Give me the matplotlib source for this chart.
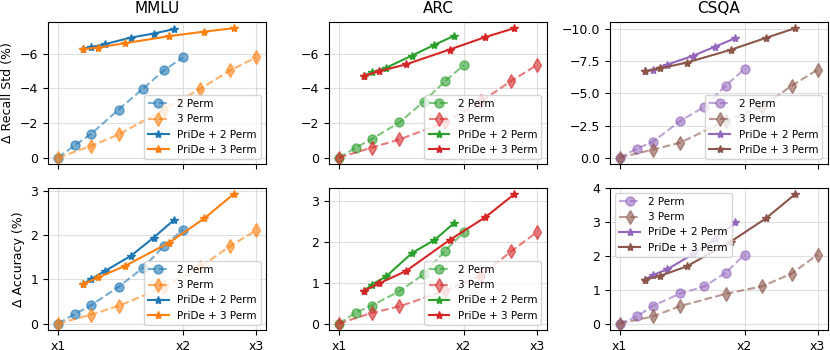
import numpy as np
import matplotlib
matplotlib.use('Agg')
import matplotlib.pyplot as plt
from matplotlib.ticker import NullLocator

plt.rcParams['font.size'] = 9

datasets = ['MMLU', 'ARC', 'CSQA']
colors = [('tab:blue', 'tab:orange'), ('tab:green', 'tab:red'), ('tab:purple', 'tab:brown')]

# relative cost (x axis)
x_2perm = [1.0, 1.1, 1.2, 1.4, 1.6, 1.8, 2.0]
x_3perm = [1.0, 1.2, 1.4, 1.8, 2.2, 2.6, 3.0]
x_pride_2perm = [1.15, 1.2, 1.3, 1.5, 1.7, 1.9]
x_pride_3perm = [1.15, 1.25, 1.45, 1.85, 2.25, 2.65]

# delta recall std (%)
std_2perm = {
    'MMLU': [0, -0.73, -1.36, -2.78, -3.97, -5.04, -5.79],
    'ARC': [0, -0.58, -1.07, -2.03, -3.22, -4.39, -5.33],
    'CSQA': [0, -0.70, -1.22, -2.86, -3.96, -5.60, -6.90],
}
std_3perm = {
    'MMLU': [0, -0.67, -1.34, -2.78, -3.97, -5.04, -5.79],
    'ARC': [0, -0.58, -1.05, -2.03, -3.24, -4.41, -5.33],
    'CSQA': [0, -0.62, -1.17, -2.86, -3.96, -5.60, -6.85],
}
std_pride_2perm = {
    'MMLU': [-6.29, -6.38, -6.56, -6.94, -7.17, -7.42],
    'ARC': [-4.72, -4.91, -5.18, -5.88, -6.50, -7.03],
    'CSQA': [-6.72, -6.85, -7.24, -7.92, -8.65, -9.30],
}
std_pride_3perm = {
    'MMLU': [-6.27, -6.36, -6.61, -7.02, -7.28, -7.48],
    'ARC': [-4.72, -4.98, -5.37, -6.23, -6.94, -7.46],
    'CSQA': [-6.72, -6.95, -7.40, -8.39, -9.32, -10.08],
}

# delta accuracy (%)
acc_2perm = {
    'MMLU': [0, 0.22, 0.41, 0.83, 1.25, 1.75, 2.12],
    'ARC': [0, 0.27, 0.44, 0.79, 1.20, 1.77, 2.23],
    'CSQA': [0, 0.21, 0.52, 0.89, 1.10, 1.50, 2.04],
}
acc_3perm = {
    'MMLU': [0, 0.20, 0.40, 0.82, 1.27, 1.75, 2.10],
    'ARC': [0, 0.26, 0.42, 0.80, 1.17, 1.76, 2.23],
    'CSQA': [0, 0.21, 0.52, 0.88, 1.10, 1.48, 2.04],
}
acc_pride_2perm = {
    'MMLU': [0.89, 1.00, 1.19, 1.53, 1.94, 2.33],
    'ARC': [0.80, 0.95, 1.15, 1.72, 2.04, 2.46],
    'CSQA': [1.30, 1.43, 1.60, 2.05, 2.50, 2.99],
}
acc_pride_3perm = {
    'MMLU': [0.89, 1.04, 1.30, 1.82, 2.37, 2.92],
    'ARC': [0.80, 0.98, 1.28, 2.04, 2.59, 3.16],
    'CSQA': [1.30, 1.41, 1.69, 2.42, 3.11, 3.83],
}

fig, axes = plt.subplots(2, 3, figsize=(8.3, 3.5), dpi=100, sharex=True)
fig.subplots_adjust(left=0.058, right=0.997, top=0.938, bottom=0.057, wspace=0.29, hspace=0.165)

rows = [(std_2perm, std_3perm, std_pride_2perm, std_pride_3perm),
        (acc_2perm, acc_3perm, acc_pride_2perm, acc_pride_3perm)]

for r in range(2):
    d2, d3, p2, p3 = rows[r]
    for c, name in enumerate(datasets):
        ax = axes[r, c]
        c2, c3 = colors[c]
        ax.plot(x_2perm, d2[name], '--o', color=c2, alpha=0.6, ms=6.5, lw=1.5, label='2 Perm')
        ax.plot(x_3perm, d3[name], '--d', color=c3, alpha=0.6, ms=7.5, lw=1.5, label='3 Perm')
        ax.plot(x_pride_2perm, p2[name], '-*', color=c2, ms=6, lw=1.5, label='PriDe + 2 Perm')
        ax.plot(x_pride_3perm, p3[name], '-*', color=c3, ms=6, lw=1.5, label='PriDe + 3 Perm')
        ax.set_xscale('log')
        ax.set_xticks([1, 2, 3])
        ax.set_xticklabels(['x1', 'x2', 'x3'])
        ax.xaxis.set_minor_locator(NullLocator())
        ax.grid(True, alpha=0.4)
        if r == 0:
            ax.invert_yaxis()
            ax.set_title(name, fontsize=11)
        loc = 'upper left' if (r == 1 and c == 2) else 'lower right'
        ax.legend(loc=loc, fontsize=7.5)

axes[0, 0].set_ylabel('Δ Recall Std (%)')
axes[1, 0].set_ylabel('Δ Accuracy (%)')

fig.savefig('out.png', dpi=100)
